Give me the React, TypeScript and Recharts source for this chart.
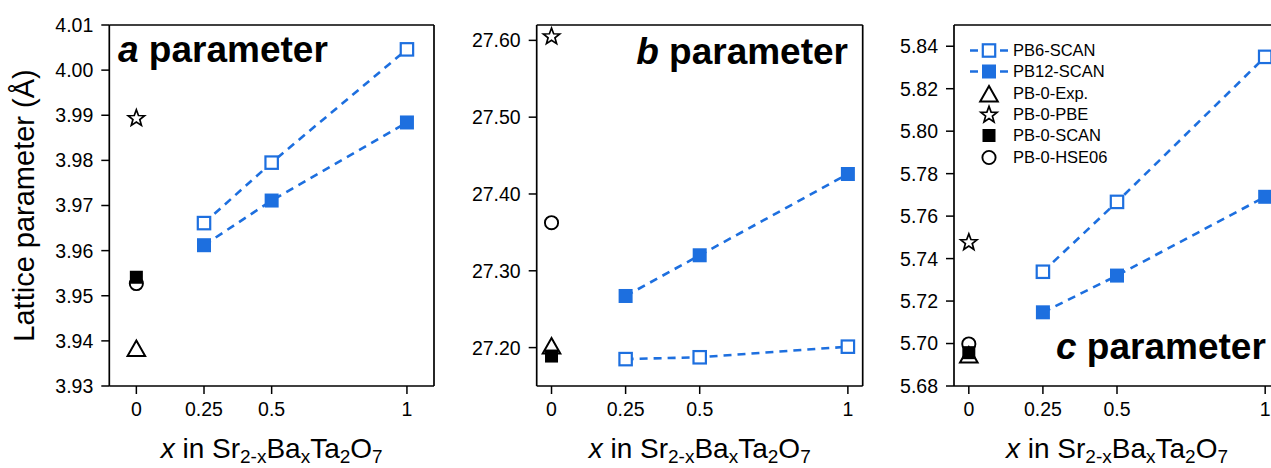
import React from "react";
import { ScatterChart, Scatter, XAxis, YAxis, Legend } from "recharts";

const FONT = "'Liberation Sans', Arial, Helvetica, sans-serif";
const BLUE = "#1d6fdf";

// Ba content x in Sr2-xBaxTa2O7
const xDoped = [0.25, 0.5, 1];
const xPristine = [0];
const xTicks = [0, 0.25, 0.5, 1];

// a parameter (Å)
const aPB6 = [3.9661, 3.9795, 4.0046];
const aPB12 = [3.9612, 3.9711, 3.9884];
const aExp = [3.9383];
const aPBE = [3.9893];
const aSCAN = [3.9541];
const aHSE = [3.9527];
const aMajor = [3.93, 3.94, 3.95, 3.96, 3.97, 3.98, 3.99, 4.0, 4.01];
const aMinor = [3.935, 3.945, 3.955, 3.965, 3.975, 3.985, 3.995, 4.005];

// b parameter (Å)
const bPB6 = [27.185, 27.1874, 27.2012];
const bPB12 = [27.2672, 27.3202, 27.426];
const bExp = [27.202];
const bPBE = [27.6048];
const bSCAN = [27.189];
const bHSE = [27.3626];
const bMajor = [27.2, 27.3, 27.4, 27.5, 27.6];
const bMinor = [27.25, 27.35, 27.45, 27.55];

// c parameter (Å)
const cPB6 = [5.7338, 5.7667, 5.835];
const cPB12 = [5.7147, 5.732, 5.7691];
const cExp = [5.6946];
const cPBE = [5.7476];
const cSCAN = [5.6957];
const cHSE = [5.6998];
const cMajor = [5.68, 5.7, 5.72, 5.74, 5.76, 5.78, 5.8, 5.82, 5.84];
const cMinor = [5.69, 5.71, 5.73, 5.75, 5.77, 5.79, 5.81, 5.83];

const legendNames = ["PB6-SCAN", "PB12-SCAN", "PB-0-Exp.", "PB-0-PBE", "PB-0-SCAN", "PB-0-HSE06"];

const pts = (xs: number[], ys: number[]) => xs.map((x, i) => ({ x, y: ys[i] }));

const OpenSquare = ({ cx, cy }: any) => (
  <rect x={cx - 6.2} y={cy - 6.2} width={12.4} height={12.4} fill="#fff" stroke={BLUE} strokeWidth={2.2} />
);
const BlueSquare = ({ cx, cy }: any) => (
  <rect x={cx - 7} y={cy - 7} width={14} height={14} fill={BLUE} />
);
const BlackSquare = ({ cx, cy }: any) => (
  <rect x={cx - 6.5} y={cy - 6.5} width={13} height={13} fill="#000" />
);
const Triangle = ({ cx, cy }: any) => (
  <polygon
    points={`${cx},${cy - 8} ${cx + 8.8},${cy + 7.5} ${cx - 8.8},${cy + 7.5}`}
    fill="#fff"
    stroke="#000"
    strokeWidth={2}
    strokeLinejoin="miter"
  />
);
const Circle = ({ cx, cy }: any) => (
  <circle cx={cx} cy={cy} r={6.6} fill="#fff" stroke="#000" strokeWidth={1.9} />
);
const Star = ({ cx, cy }: any) => {
  const p: string[] = [];
  for (let i = 0; i < 10; i++) {
    const r = i % 2 === 0 ? 8.6 : 3.6;
    const ang = -Math.PI / 2 + (i * Math.PI) / 5;
    p.push(`${cx + r * Math.cos(ang)},${cy + r * Math.sin(ang)}`);
  }
  return <polygon points={p.join(" ")} fill="#fff" stroke="#000" strokeWidth={1.7} strokeLinejoin="miter" />;
};

const dashLine = { stroke: BLUE, strokeWidth: 2.6, strokeDasharray: "8 6" };
const axisStroke = { stroke: "#000", strokeWidth: 1.7 };
const tickStroke = { stroke: "#000", strokeWidth: 1.5 };
const tickFont = { fill: "#000", fontSize: 19.5, fontFamily: FONT };

const XTitle = ({ viewBox }: any) => {
  const cx = viewBox ? viewBox.x + viewBox.width / 2 : 0;
  return (
    <text x={cx} y={458} textAnchor="middle" fontSize={28} fontFamily={FONT} fill="#000">
      <tspan fontStyle="italic">x</tspan> in Sr<tspan fontSize={19} dy={5}>2-x</tspan>
      <tspan dy={-5}>Ba</tspan>
      <tspan fontSize={19} dy={5}>x</tspan>
      <tspan dy={-5}>Ta</tspan>
      <tspan fontSize={19} dy={5}>2</tspan>
      <tspan dy={-5}>O</tspan>
      <tspan fontSize={19} dy={5}>7</tspan>
    </text>
  );
};

const YTitle = () => (
  <text transform="translate(33.5,205.5) rotate(-90)" textAnchor="middle" fontSize={29} fontFamily={FONT} fill="#000">
    Lattice parameter (Å)
  </text>
);

const LegendIcon = ({ idx }: { idx: number }) => {
  const cx = 19;
  const cy = 10.5;
  return (
    <svg width={40} height={21} style={{ display: "block" }}>
      {idx < 2 && <line x1={0} x2={38} y1={cy} y2={cy} {...dashLine} strokeDasharray="8 22" />}
      {idx === 0 && <OpenSquare cx={cx} cy={cy} />}
      {idx === 1 && <BlueSquare cx={cx} cy={cy} />}
      {idx === 2 && <Triangle cx={cx} cy={cy + 0.5} />}
      {idx === 3 && <Star cx={cx} cy={cy + 0.5} />}
      {idx === 4 && <BlackSquare cx={cx} cy={cy} />}
      {idx === 5 && <Circle cx={cx} cy={cy} />}
    </svg>
  );
};

const LegendBox = () => (
  <div style={{ fontFamily: FONT, fontSize: 16.5, color: "#000" }}>
    {legendNames.map((n, i) => (
      <div key={n} style={{ display: "flex", alignItems: "center", height: 21.3 }}>
        <LegendIcon idx={i} />
        <span style={{ marginLeft: 3 }}>{n}</span>
      </div>
    ))}
  </div>
);

type PanelProps = {
  left: number;
  width: number;
  ml: number;
  mr: number;
  xDomain: [number, number];
  yDomain: [number, number];
  major: number[];
  minor: number[];
  pb6: number[];
  pb12: number[];
  exp: number[];
  pbe: number[];
  scan: number[];
  hse: number[];
  yLabel?: boolean;
  legend?: boolean;
};

const Panel = (p: PanelProps) => (
  <div style={{ position: "absolute", left: p.left, top: 0 }}>
    <ScatterChart width={p.width} height={468} margin={{ top: 25, right: p.mr, bottom: 81, left: p.ml }}>
      <XAxis
        dataKey="x"
        type="number"
        domain={p.xDomain}
        ticks={xTicks}
        interval={0}
        allowDataOverflow
        height={1}
        tickSize={8}
        tickMargin={8}
        axisLine={axisStroke}
        tickLine={tickStroke}
        tick={tickFont}
        tickFormatter={(v: number) => String(v)}
        label={(lp: any) => <XTitle viewBox={lp.viewBox} />}
      />
      <XAxis
        xAxisId="top"
        orientation="top"
        mirror
        type="number"
        domain={p.xDomain}
        ticks={xTicks}
        interval={0}
        allowDataOverflow
        height={1}
        tickSize={8}
        axisLine={axisStroke}
        tickLine={tickStroke}
        tick={false}
      />
      <YAxis
        dataKey="y"
        type="number"
        domain={p.yDomain}
        ticks={p.major}
        interval={0}
        allowDataOverflow
        width={1}
        tickSize={8}
        tickMargin={8}
        axisLine={axisStroke}
        tickLine={tickStroke}
        tick={tickFont}
        tickFormatter={(v: number) => v.toFixed(2)}
        label={p.yLabel ? () => <YTitle /> : undefined}
      />
      <YAxis
        yAxisId="minorL"
        type="number"
        domain={p.yDomain}
        ticks={p.minor}
        interval={0}
        allowDataOverflow
        width={1}
        tickSize={4.5}
        axisLine={false}
        tickLine={tickStroke}
        tick={false}
      />
      <YAxis
        yAxisId="majorR"
        orientation="right"
        mirror
        type="number"
        domain={p.yDomain}
        ticks={p.major}
        interval={0}
        allowDataOverflow
        width={1}
        tickSize={8}
        axisLine={axisStroke}
        tickLine={tickStroke}
        tick={false}
      />
      <YAxis
        yAxisId="minorR"
        orientation="right"
        mirror
        type="number"
        domain={p.yDomain}
        ticks={p.minor}
        interval={0}
        allowDataOverflow
        width={1}
        tickSize={4.5}
        axisLine={false}
        tickLine={tickStroke}
        tick={false}
      />
      <Scatter name="PB-0-HSE06" data={pts(xPristine, p.hse)} shape={Circle} isAnimationActive={false} />
      <Scatter name="PB-0-Exp." data={pts(xPristine, p.exp)} shape={Triangle} isAnimationActive={false} />
      <Scatter name="PB-0-PBE" data={pts(xPristine, p.pbe)} shape={Star} isAnimationActive={false} />
      <Scatter name="PB-0-SCAN" data={pts(xPristine, p.scan)} shape={BlackSquare} isAnimationActive={false} />
      <Scatter name="PB6-SCAN" data={pts(xDoped, p.pb6)} shape={OpenSquare} line={dashLine} lineType="joint" isAnimationActive={false} />
      <Scatter name="PB12-SCAN" data={pts(xDoped, p.pb12)} shape={BlueSquare} line={dashLine} lineType="joint" isAnimationActive={false} />
      {p.legend && (
        <Legend
          layout="vertical"
          align="center"
          verticalAlign="middle"
          content={() => <LegendBox />}
          wrapperStyle={{ left: 95, top: 40, width: 200 }}
        />
      )}
    </ScatterChart>
  </div>
);

export default function App() {
  return (
    <div
      style={{
        position: "absolute",
        left: 0,
        top: 0,
        width: 1271,
        height: 468,
        overflow: "hidden",
        background: "#fff",
        fontFamily: FONT,
      }}
    >
      <Panel
        left={0}
        width={445}
        ml={107.3}
        mr={11}
        xDomain={[-0.1, 1.1]}
        yDomain={[3.93, 4.01]}
        major={aMajor}
        minor={aMinor}
        pb6={aPB6}
        pb12={aPB12}
        exp={aExp}
        pbe={aPBE}
        scan={aSCAN}
        hse={aHSE}
        yLabel
      />
      <Panel
        left={445}
        width={430}
        ml={89.7}
        mr={12.3}
        xDomain={[-0.05, 1.05]}
        yDomain={[27.15, 27.62]}
        major={bMajor}
        minor={bMinor}
        pb6={bPB6}
        pb12={bPB12}
        exp={bExp}
        pbe={bPBE}
        scan={bSCAN}
        hse={bHSE}
      />
      <Panel
        left={875}
        width={420}
        ml={77}
        mr={15}
        xDomain={[-0.05, 1.05]}
        yDomain={[5.68, 5.85]}
        major={cMajor}
        minor={cMinor}
        pb6={cPB6}
        pb12={cPB12}
        exp={cExp}
        pbe={cPBE}
        scan={cSCAN}
        hse={cHSE}
        legend
      />
      <svg
        width={1271}
        height={468}
        style={{ position: "absolute", left: 0, top: 0, pointerEvents: "none" }}
        fontFamily={FONT}
      >
        <text x={118} y={62} fontSize={37} fontWeight="bold" fill="#000">
          <tspan fontStyle="italic">a</tspan> parameter
        </text>
        <text x={848} y={63.5} fontSize={37} fontWeight="bold" fill="#000" textAnchor="end">
          <tspan fontStyle="italic">b</tspan> parameter
        </text>
        <text x={1056} y={359} fontSize={37} fontWeight="bold" fill="#000">
          <tspan fontStyle="italic">c</tspan> parameter
        </text>
      </svg>
    </div>
  );
}
